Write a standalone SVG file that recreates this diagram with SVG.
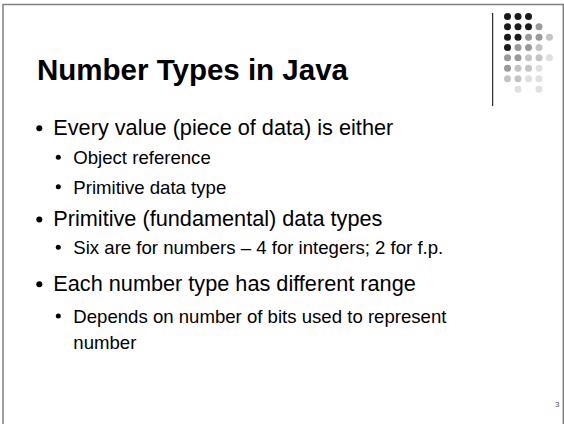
<svg xmlns="http://www.w3.org/2000/svg" width="564" height="424" viewBox="0 0 564 424">
<style>
text{font-family:"Liberation Sans",Arial,sans-serif;fill:#000}
.t{font-size:29.5px;font-weight:bold}
.l1{font-size:21.7px}
.l2{font-size:18.6px}
.pg{font-size:8px;fill:#555}
.k{fill:#1a1a1a}.g{fill:#999}.c{fill:#c4c4c4}.d{fill:#e0e0e0}
</style>
<rect width="564" height="424" fill="#fff"/>
<path d="M3,426 V4.5 H563.3 V426" fill="none" stroke="#808080" stroke-width="1.5"/>
<g id="decor">
<line x1="492.7" y1="13" x2="492.7" y2="106" stroke="#000" stroke-width="1"/>
<g>
<circle class="k" cx="507.5" cy="16.5" r="3.5"/><circle class="k" cx="518" cy="16.5" r="3.5"/><circle class="k" cx="528.5" cy="16.5" r="3.5"/>
<circle class="k" cx="507.5" cy="26.8" r="3.5"/><circle class="k" cx="518" cy="26.8" r="3.5"/><circle class="k" cx="528.5" cy="26.8" r="3.5"/><circle class="g" cx="539" cy="26.8" r="3.5"/>
<circle class="k" cx="507.5" cy="37.2" r="3.5"/><circle class="k" cx="518" cy="37.2" r="3.5"/><circle class="g" cx="528.5" cy="37.2" r="3.5"/><circle class="g" cx="539" cy="37.2" r="3.5"/><circle class="c" cx="549.4" cy="37.2" r="3.5"/>
<circle class="k" cx="507.5" cy="47.5" r="3.5"/><circle class="g" cx="518" cy="47.5" r="3.5"/><circle class="g" cx="528.5" cy="47.5" r="3.5"/><circle class="c" cx="539" cy="47.5" r="3.5"/>
<circle class="g" cx="507.5" cy="57.8" r="3.5"/><circle class="g" cx="518" cy="57.8" r="3.5"/><circle class="c" cx="528.5" cy="57.8" r="3.5"/><circle class="c" cx="539" cy="57.8" r="3.5"/><circle class="d" cx="549.4" cy="57.8" r="3.5"/>
<circle class="g" cx="507.5" cy="68.2" r="3.5"/><circle class="c" cx="518" cy="68.2" r="3.5"/><circle class="c" cx="528.5" cy="68.2" r="3.5"/><circle class="d" cx="539" cy="68.2" r="3.5"/>
<circle class="c" cx="507.5" cy="78.8" r="3.5"/><circle class="c" cx="518" cy="78.8" r="3.5"/><circle class="d" cx="528.5" cy="78.8" r="3.5"/><circle class="d" cx="539" cy="78.8" r="3.5"/>
<circle class="d" cx="518" cy="89.3" r="3.5"/><circle class="d" cx="539" cy="89.3" r="3.5"/>
</g>
</g>
<g id="title"><text class="t" x="37" y="80">Number Types in Java</text></g>
<g id="bullets">
<circle cx="39.3" cy="128.3" r="3"/><text class="l1" x="53.3" y="135">Every value (piece of data) is either</text>
<circle cx="58.3" cy="157.3" r="2.5"/><text class="l2" x="73.3" y="164.3">Object reference</text>
<circle cx="58.3" cy="186.7" r="2.5"/><text class="l2" x="73.3" y="194">Primitive data type</text>
<circle cx="39.3" cy="219.5" r="3"/><text class="l1" x="53.3" y="226.3">Primitive (fundamental) data types</text>
<circle cx="58.3" cy="247.3" r="2.5"/><text class="l2" x="73.3" y="254">Six are for numbers – 4 for integers; 2 for f.p.</text>
<circle cx="39.3" cy="284.3" r="3"/><text class="l1" x="53.3" y="291">Each number type has different range</text>
<circle cx="58.3" cy="316" r="2.5"/><text class="l2" x="73.3" y="322.7">Depends on number of bits used to represent</text>
<text class="l2" x="73.3" y="349">number</text>
</g>
<g id="page"><text class="pg" x="555" y="407">3</text></g>
</svg>
